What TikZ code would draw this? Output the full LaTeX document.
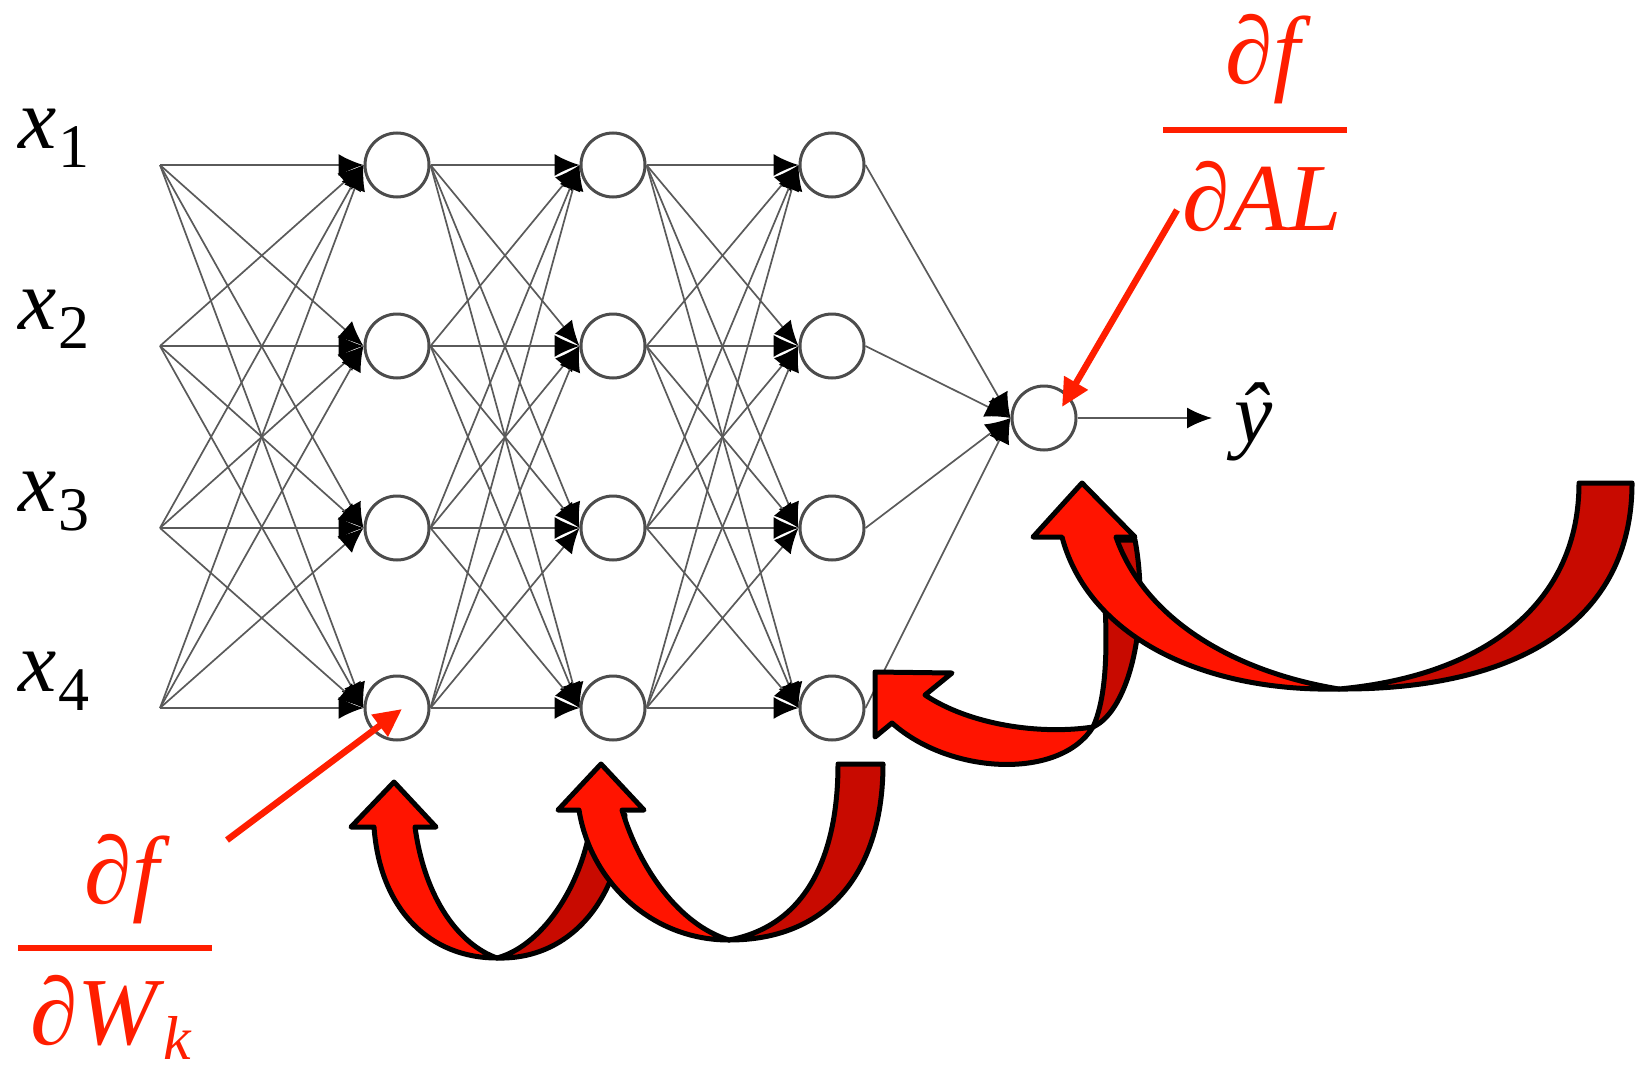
\documentclass[tikz,border=0pt]{standalone}
\usepackage{fontspec}
\setmainfont{Liberation Serif}
\usetikzlibrary{arrows.meta}
\definecolor{txtred}{RGB}{255,30,0}
\definecolor{rbright}{RGB}{255,20,0}
\definecolor{rdark}{RGB}{200,10,0}
\definecolor{edgegray}{RGB}{90,90,90}
\begin{document}
\begin{tikzpicture}[x=1pt,y=-1pt,
  neuron/.style={circle,draw=black!70,line width=3pt,fill=white,minimum size=64pt,inner sep=0pt},
  syn/.style={draw=edgegray,line width=1.7pt,-{Latex[length=25pt,width=22pt,color=black]}},
  ribbonfront/.style={fill=rbright,draw=black,line width=5pt,line join=round},
  ribbonback/.style={fill=rdark,draw=black,line width=5pt,line join=round},
  redptr/.style={draw=txtred,line width=6.5pt,-{Triangle[length=28pt,width=26pt,color=txtred]}},
  biglabel/.style={text=txtred,font=\fontsize{96}{100}\selectfont\itshape,inner sep=0pt},
  inlabel/.style={font=\fontsize{86}{90}\selectfont,inner sep=0pt},
  fracbar/.style={draw=txtred,line width=6pt}
]
\useasboundingbox[fill=white] (0,0) rectangle (1640,1073);

% ---------- network ----------
\foreach \r/\y in {1/165,2/346,3/528,4/708}{
  \coordinate (i\r) at (160,\y);
  \node[neuron] (a\r) at (397,\y) {};
  \node[neuron] (b\r) at (613,\y) {};
  \node[neuron] (c\r) at (832,\y) {};
}
\node[neuron] (o) at (1044,418) {};

\foreach \s in {1,...,4}{
  \foreach \t in {1,...,4}{
    \draw[syn] (i\s) -- (a\t.west);
    \draw[syn] (a\s.east) -- (b\t.west);
    \draw[syn] (b\s.east) -- (c\t.west);
  }
  \draw[syn] (c\s.east) -- (o.west);
}
\coordinate (yend) at (1212,418);
\draw[draw=edgegray,line width=1.7pt,-{Latex[length=25pt,width=21pt,color=black]}] (o.east) -- (yend);

% ---------- labels ----------
\node[inlabel,anchor=base west] (x1) at (18,148) {\itshape x\kern2pt\raisebox{-19pt}{\fontsize{62}{64}\selectfont\upshape 1}};
\node[inlabel,anchor=base west] (x2) at (18,329) {\itshape x\kern2pt\raisebox{-19pt}{\fontsize{62}{64}\selectfont\upshape 2}};
\node[inlabel,anchor=base west] (x3) at (18,511) {\itshape x\kern2pt\raisebox{-19pt}{\fontsize{62}{64}\selectfont\upshape 3}};
\node[inlabel,anchor=base west] (x4) at (18,691) {\itshape x\kern2pt\raisebox{-19pt}{\fontsize{62}{64}\selectfont\upshape 4}};
\node[inlabel,anchor=base] (yhat) at (1254,442) {\itshape ŷ};

% ---------- curved ribbon arrows ----------
% A
\path[ribbonback] (497,958) .. controls (570,960) and (620,900) .. (625,815) -- (592,815)
   .. controls (585,880) and (545,945) .. (497,958) -- cycle;
\path[ribbonfront] (374,827) .. controls (380,910) and (430,958) .. (497,958)
   .. controls (460,945) and (425,900) .. (415,827) -- (436,827) -- (394,782) -- (351,827) -- cycle;
% B
\path[ribbonback] (729,940) .. controls (830,940) and (883,870) .. (883,764) -- (838,764)
   .. controls (838,850) and (810,925) .. (729,940) -- cycle;
\path[ribbonfront] (579,810) .. controls (590,880) and (650,940) .. (729,940)
   .. controls (680,925) and (640,870) .. (622,810) -- (644,810) -- (601,764) -- (558,810) -- cycle;
% C
\path[ribbonback] (1093,727) .. controls (1130,710) and (1150,620) .. (1135,540) -- (1100,540)
   .. controls (1108,620) and (1110,690) .. (1093,727) -- cycle;
\path[ribbonfront] (925,695) .. controls (970,725) and (1040,735) .. (1093,727)
   .. controls (1060,780) and (950,775) .. (892,723) -- (875,737) -- (875,672) -- (952,673) -- cycle;
% D
\path[ribbonback] (1339,689) .. controls (1520,690) and (1632,620) .. (1632,483) -- (1579,483)
   .. controls (1579,600) and (1490,675) .. (1339,689) -- cycle;
\path[ribbonfront] (1062,537) .. controls (1088,635) and (1200,692) .. (1339,689)
   .. controls (1235,672) and (1145,620) .. (1116,537) -- (1135,537) -- (1082,483) -- (1033,537) -- cycle;

% ---------- derivative labels ----------
\node[biglabel,anchor=base] (n1) at (1263,84) {∂f};
\coordinate (bar1l) at (1163,130);
\coordinate (bar1r) at (1347,130);
\draw[fracbar] (bar1l) -- (bar1r);
\node[biglabel,anchor=base] (d1) at (1262,230) {∂AL};

\node[biglabel,anchor=base] (n2) at (122,903) {∂f};
\coordinate (bar2l) at (18,948);
\coordinate (bar2r) at (212,948);
\draw[fracbar] (bar2l) -- (bar2r);
\node[biglabel,anchor=base west] (d2) at (30,1044) {∂W\kern6pt\raisebox{-15pt}{\fontsize{62}{62}\selectfont k}};

\coordinate (p1s) at (1177,210);
\coordinate (p1e) at (1062,407);
\draw[redptr] (p1s) -- (p1e);
\coordinate (p2s) at (227,840);
\coordinate (p2e) at (402,709);
\draw[redptr] (p2s) -- (p2e);
\end{tikzpicture}
\end{document}
